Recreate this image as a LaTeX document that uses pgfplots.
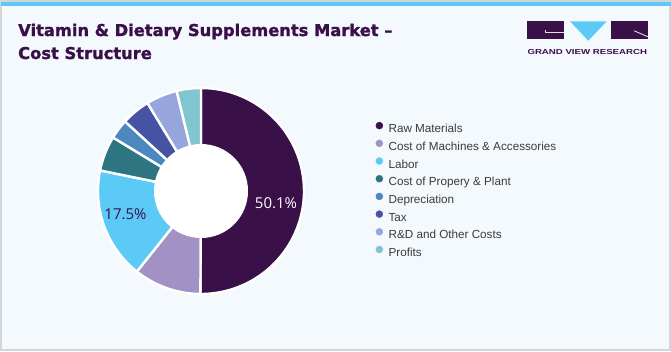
\documentclass[border=0pt]{standalone}
\usepackage{pgfplots}
\pgfplotsset{compat=1.18}
\usepackage{pgfplotstable}
\usepackage{fontspec}
\setmainfont{Liberation Sans}
\newfontfamily\titlefont[BoldFeatures={FakeBold=1.3}]{DejaVu Sans}
\newfontfamily\labelfont{Open Sans}
\definecolor{bg}{HTML}{F4F9FD}
\definecolor{cRaw}{HTML}{3A1049}
\definecolor{cMach}{HTML}{A291C5}
\definecolor{cLab}{HTML}{5CCAF6}
\definecolor{cProp}{HTML}{2E7582}
\definecolor{cDep}{HTML}{4A88BE}
\definecolor{cTax}{HTML}{4553A2}
\definecolor{cRD}{HTML}{97A5DD}
\definecolor{cProf}{HTML}{80C5CF}
\definecolor{legtext}{HTML}{3B3B3B}
\definecolor{bordergray}{HTML}{D3D6D9}

\pgfplotstableread{
share color
50.1 cRaw
10.6 cMach
17.5 cLab
5.5 cProp
3.1 cDep
4.5 cTax
4.9 cRD
3.8 cProf
}\costdata

\newcommand\legdot[1]{\addlegendimage{legend image code/.code={\fill[#1] (0pt,4pt) circle (3.5pt);}}}

\begin{document}
\begin{tikzpicture}
\begin{scope}[x=1pt,y=-1pt]
\useasboundingbox (0,0) rectangle (671,351);
\fill[bg] (0,0) rectangle (671,351);
\draw[bordergray, line width=2pt] (1,1) rectangle (670,350);
\fill[cLab] (0.5,1.8) rectangle (670.5,6);
% title
\node[anchor=base west, inner sep=0pt, text=cRaw, font=\titlefont\bfseries\fontsize{16.3}{20}\selectfont] at (18,36) {Vitamin \& Dietary Supplements Market –};
\node[anchor=base west, inner sep=0pt, text=cRaw, font=\titlefont\bfseries\fontsize{16.3}{20}\selectfont] at (18,59) {Cost Structure};
% logo
\fill[cRaw] (527.3,21.3) rectangle (563.5,39);
\draw[white!75!gray, line width=0.9pt] (545,29.5) -- (545,32.3) -- (563.5,32.3);
\fill[cLab] (570,21.3) -- (606.7,21.3) -- (588.3,40.7) -- cycle;
\fill[cRaw] (611.3,21.3) rectangle (647.7,39);
\draw[white!75!gray, line width=0.9pt] (634,30.7) -- (647.7,36.7);
\node[anchor=base west, inner sep=0pt, text=cRaw] at (527.3,54.5) {\scalebox{1.34}[1]{\bfseries\fontsize{7.2}{8}\selectfont GRAND VIEW RESEARCH}};
\end{scope}

\begin{axis}[
  at={(201pt,-191pt)}, anchor=center,
  scale only axis, width=220pt, height=220pt,
  xmin=-110, xmax=110, ymin=-110, ymax=110,
  hide axis, clip=false,
  legend cell align=left,
  legend style={at={(axis description cs:1.293,0.815)}, anchor=north west,
    draw=none, fill=none, inner sep=0pt, text=legtext,
    font=\fontsize{11.7}{14}\selectfont, row sep=4pt,
    nodes={inner xsep=5.5pt, inner ysep=0pt, text height=9pt, text depth=3pt}},
]
\def\acc{90}
\pgfplotsforeachungrouped \i in {0,...,7}{
  \pgfplotstablegetelem{\i}{share}\of\costdata \let\v\pgfplotsretval
  \pgfplotstablegetelem{\i}{color}\of\costdata \let\c\pgfplotsretval
  \pgfmathsetmacro\b{\acc-3.6*\v}
  \pgfmathsetmacro\m{(\acc+\b)/2}
  \edef\temp{\noexpand\fill[\c, draw=white, line width=2.4pt, line join=miter]
    (axis cs:0,0) -- ++(\acc:103pt) arc[start angle=\acc, end angle=\b, radius=103pt] -- cycle;}
  \temp
  \ifnum\i=0
    \pgfmathsetmacro\lx{75*cos(\m)}\pgfmathsetmacro\ly{75*sin(\m)}
    \xdef\labA{\noexpand\node[text=white, font=\noexpand\labelfont\noexpand\fontsize{15}{18}\noexpand\selectfont, yshift=-12pt] at (axis cs:\lx,\ly) {\v\noexpand\%};}
  \fi
  \ifnum\i=2
    \pgfmathsetmacro\lx{75*cos(\m)}\pgfmathsetmacro\ly{75*sin(\m)}
    \xdef\labC{\noexpand\node[text=cRaw, font=\noexpand\labelfont\noexpand\fontsize{15}{18}\noexpand\selectfont, xshift=-5pt, yshift=2pt] at (axis cs:\lx,\ly) {\v\noexpand\%};}
  \fi
  \let\acc\b
}
\fill[white] (axis cs:0,0) circle[radius=47pt];
\labA
\labC
\legdot{cRaw}\addlegendentry{Raw Materials}
\legdot{cMach}\addlegendentry{Cost of Machines \& Accessories}
\legdot{cLab}\addlegendentry{Labor}
\legdot{cProp}\addlegendentry{Cost of Propery \& Plant}
\legdot{cDep}\addlegendentry{Depreciation}
\legdot{cTax}\addlegendentry{Tax}
\legdot{cRD}\addlegendentry{R\&D and Other Costs}
\legdot{cProf}\addlegendentry{Profits}
\end{axis}
\end{tikzpicture}
\end{document}
